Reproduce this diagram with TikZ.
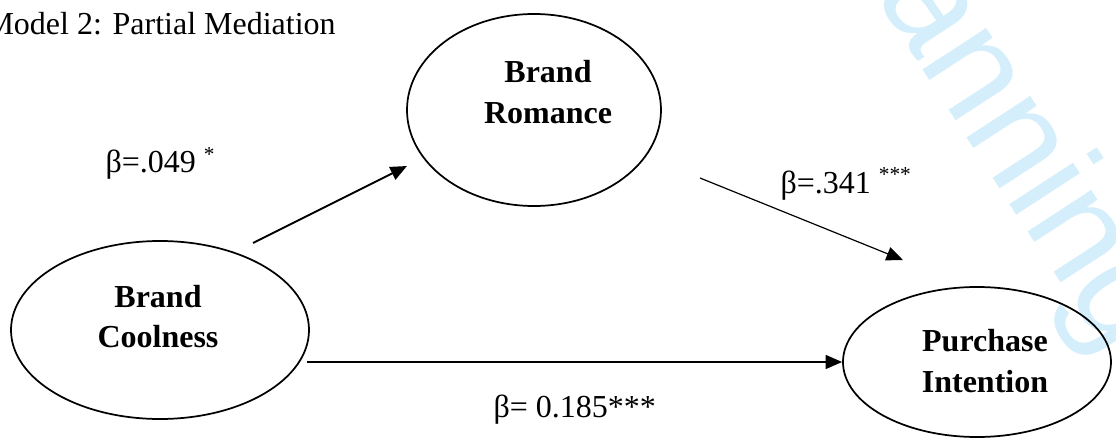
\documentclass[tikz,border=0pt]{standalone}
\usepackage{fontspec}
\setmainfont{Liberation Serif}
\newfontfamily\wmfont{Liberation Sans}
\usetikzlibrary{arrows.meta,shapes.geometric,calc}
\definecolor{wmcyan}{RGB}{212,238,251}
\begin{document}
\begin{tikzpicture}[x=0.375pt,y=-0.375pt,
  ell/.style={draw,ellipse,line width=0.65pt,inner sep=0pt},
  lbl/.style={font=\fontsize{12}{15.3}\selectfont\bfseries,align=center,inner sep=0pt},
  coef/.style={font=\fontsize{12}{14}\selectfont,anchor=base west,inner sep=0pt},
  arr/.style={-{Triangle[length=6.2pt,width=5.2pt]},line width=0.75pt},
  thinarr/.style={arr,line width=0.45pt},
  wm/.style={font=\wmfont\fontsize{54}{54}\selectfont,text=wmcyan,inner sep=0pt}]
\useasboundingbox (0,0) rectangle (1116,439);
\clip (0,0) rectangle (1116,439);
% watermark
\node[wm,rotate=-57,anchor=base west] (wmark) at (804,-113) {Planning};
% title
\node[coef] (title) at (-15,35) {Model 2: Partial Mediation};
% ellipses
\node[ell,minimum width=111.75pt,minimum height=66.75pt] (bc) at (160,330) {};
\node[ell,minimum width=95.25pt,minimum height=72pt] (br) at (534,110) {};
\node[ell,minimum width=100.5pt,minimum height=56.25pt] (pi) at (977,362) {};
\node[lbl] (bct) at ($(bc.center)+(-2,-13.5)$) {Brand\\Coolness};
\node[lbl] (brt) at ($(br.center)+(14,-18)$) {Brand\\Romance};
\node[lbl] (pit) at ($(pi.center)+(8,-1)$) {Purchase\\Intention};
% connector end points
\coordinate (a1s) at ($(bc.center)+(93,-87)$);
\coordinate (a1e) at ($(br.center)+(-127,56)$);
\coordinate (a2s) at ($(br.center)+(166,68)$);
\coordinate (a2e) at ($(pi.center)+(-74,-102)$);
\coordinate (a3s) at ($(bc.center)+(147,32)$);
\draw[arr] (a1s) -- (a1e);
\draw[thinarr] (a2s) -- (a2e);
\draw[arr] (a3s) -- (pi.west);
% coefficients
\node[coef] (c1) at (105,173) {β=.049 \textsuperscript{*}};
\node[coef] (c2) at (780,193) {β=.341 \textsuperscript{***}};
\node[coef] (c3) at (493,417) {β= 0.185***};
\end{tikzpicture}
\end{document}
